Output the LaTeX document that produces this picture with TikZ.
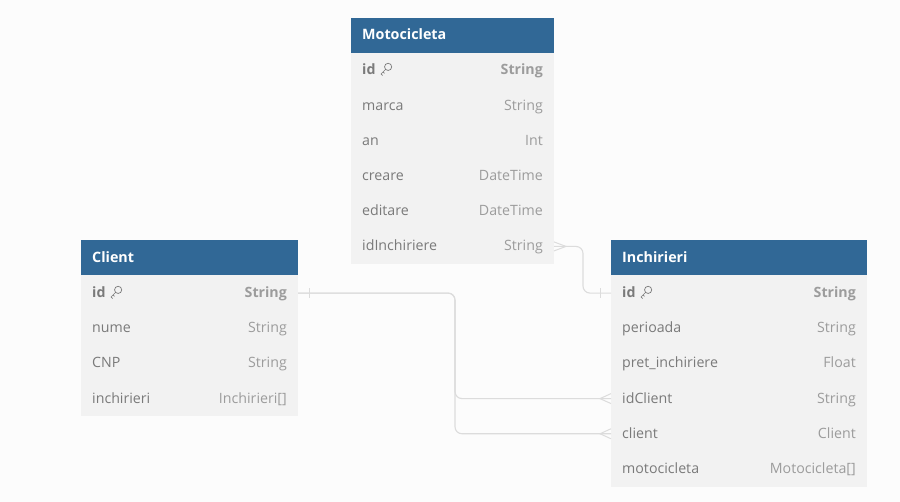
\documentclass[tikz,border=0pt]{standalone}
\usepackage{fontspec}
\setmainfont{Open Sans}
\definecolor{headblue}{HTML}{316896}
\definecolor{rowgray}{HTML}{F2F2F2}
\definecolor{pagegray}{HTML}{FCFCFC}
\definecolor{namegray}{HTML}{7A7A7A}
\definecolor{typegray}{HTML}{9C9C9C}
\definecolor{linkgray}{HTML}{DCDCDC}
\tikzset{
  headbox/.style={fill=headblue, minimum height=35.5pt, inner sep=0pt, outer sep=0pt},
  rowbox/.style={fill=rowgray, minimum height=35.2pt, inner sep=0pt, outer sep=0pt},
  headtxt/.style={white, font=\fontsize{14.3}{14}\selectfont\bfseries, anchor=base west, inner sep=0pt},
  nametxt/.style={namegray, font=\fontsize{14.2}{14}\selectfont, anchor=base west, inner sep=0pt},
  typetxt/.style={typegray, font=\fontsize{14.2}{14}\selectfont, anchor=base east, inner sep=0pt},
  pkname/.style={nametxt, font=\fontsize{14.2}{14}\selectfont\bfseries},
  pktype/.style={typetxt, font=\fontsize{14.2}{14}\selectfont\bfseries},
  link/.style={linkgray, line width=1.1pt, rounded corners=7pt},
  foot/.style={linkgray, line width=1pt},
}
% little key drawn after the primary key name
\newcommand{\keyicon}[1]{%
  \draw[namegray, line width=0.7pt, rotate around={45:(#1)}]
    ($(#1)+(3,0)$) circle[radius=3.6pt]
    ($(#1)+(-0.6,0)$) -- ++(-6.4,0) -- ++(0,2.2) ($(#1)+(-4.2,0)$) -- ++(0,2);}
\usetikzlibrary{calc}
\begin{document}
\begin{tikzpicture}[x=1pt, y=-1pt]
  \useasboundingbox (0,0) rectangle (900,502);
  \fill[pagegray] (0,0) rectangle (900,502);
  % Motocicleta table
  \node[headbox, minimum width=203pt] (MH) at (452.5,35.5) {};
  \node[headtxt] (MT) at (362,40) {Motocicleta};
  \foreach \n/\name/\type [count=\i] in {1/id/String, 2/marca/String, 3/an/Int, 4/creare/DateTime, 5/editare/DateTime, 6/idInchiriere/String} {
    \node[rowbox, minimum width=203pt] (M\n) at (452.5,{53+35.17*(\i-0.5)}) {};
    \ifnum\i=1
      \node[pkname] (MN\n) at (362,{75+35.17*(\i-1)}) {\name};
      \node[pktype] (MY\n) at (543,{75+35.17*(\i-1)}) {\type};
    \else
      \node[nametxt] (MN\n) at (362,{75+35.17*(\i-1)}) {\name};
      \node[typetxt] (MY\n) at (543,{75+35.17*(\i-1)}) {\type};
    \fi
  }
  \keyicon{386,69}
  % Client table
  \node[headbox, minimum width=217pt] (CH) at (189.5,257.75) {};
  \node[headtxt] (CT) at (92,262.6) {Client};
  \foreach \n/\name/\type [count=\i] in {1/id/String, 2/nume/String, 3/CNP/String, 4/inchirieri/Inchirieri[]} {
    \node[rowbox, minimum width=217pt] (C\n) at (189.5,{275.5+35.17*(\i-0.5)}) {};
    \ifnum\i=1
      \node[pkname] (CN\n) at (92,{297.6+35.17*(\i-1)}) {\name};
      \node[pktype] (CY\n) at (287,{297.6+35.17*(\i-1)}) {\type};
    \else
      \node[nametxt] (CN\n) at (92,{297.6+35.17*(\i-1)}) {\name};
      \node[typetxt] (CY\n) at (287,{297.6+35.17*(\i-1)}) {\type};
    \fi
  }
  \keyicon{116,292}
  % Inchirieri table
  \node[headbox, minimum width=256pt] (IH) at (739,257.75) {};
  \node[headtxt] (IT) at (622,262.6) {Inchirieri};
  \foreach \n/\name/\type [count=\i] in {1/id/String, 2/perioada/String, 3/pret\_inchiriere/Float, 4/idClient/String, 5/client/Client, 6/motocicleta/Motocicleta[]} {
    \node[rowbox, minimum width=256pt] (I\n) at (739,{275.5+35.17*(\i-0.5)}) {};
    \ifnum\i=1
      \node[pkname] (IN\n) at (622,{297.6+35.17*(\i-1)}) {\name};
      \node[pktype] (IY\n) at (856,{297.6+35.17*(\i-1)}) {\type};
    \else
      \node[nametxt] (IN\n) at (622,{297.6+35.17*(\i-1)}) {\name};
      \node[typetxt] (IY\n) at (856,{297.6+35.17*(\i-1)}) {\type};
    \fi
  }
  \keyicon{646,292}
  % connectors
  \draw[link] (M6.east) -- ++(29,0) |- (I1.west);
  \draw[link] (C1.east) -- ++(157,0) |- (I4.west);
  \draw[link] (C1.east) -- ++(157,0) |- (I5.west);
  % crow feet and bars
  \draw[foot] ($(M6.east)+(0,-4.5)$) -- ($(M6.east)+(12,0)$) -- ($(M6.east)+(0,4.5)$);
  \draw[foot] ($(I1.west)+(-11,-5)$) -- ($(I1.west)+(-11,5)$);
  \draw[foot] ($(C1.east)+(11,-5)$) -- ($(C1.east)+(11,5)$);
  \draw[foot] ($(I4.west)+(0,-5)$) -- ($(I4.west)+(-11,0)$) -- ($(I4.west)+(0,5)$);
  \draw[foot] ($(I5.west)+(0,-5)$) -- ($(I5.west)+(-11,0)$) -- ($(I5.west)+(0,5)$);
\end{tikzpicture}
\end{document}
